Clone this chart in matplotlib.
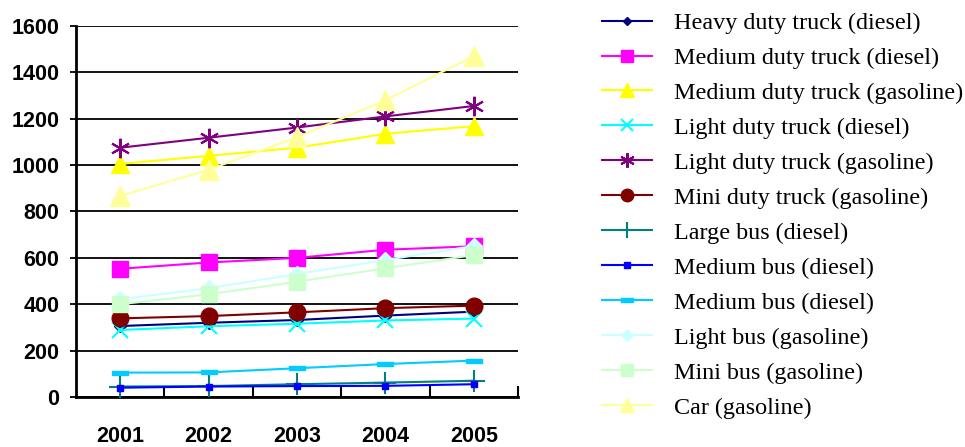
import matplotlib.pyplot as plt
from matplotlib.lines import Line2D

years = ["2001", "2002", "2003", "2004", "2005"]

labels = [
    "Heavy duty truck (diesel)",
    "Medium duty truck (diesel)",
    "Medium duty truck (gasoline)",
    "Light duty truck (diesel)",
    "Light duty truck (gasoline)",
    "Mini duty truck (gasoline)",
    "Large bus (diesel)",
    "Medium bus (diesel)",
    "Medium bus (diesel)",
    "Light bus (gasoline)",
    "Mini bus (gasoline)",
    "Car (gasoline)",
]

heavy_truck_diesel = [306, 320, 332, 351, 368]
medium_truck_diesel = [553, 580, 600, 635, 650]
medium_truck_gasoline = [1005, 1040, 1075, 1135, 1168]
light_truck_diesel = [289, 305, 316, 330, 338]
light_truck_gasoline = [1075, 1118, 1162, 1210, 1255]
mini_truck_gasoline = [339, 349, 365, 383, 394]
large_bus_diesel = [45, 47, 55, 62, 70]
medium_bus_diesel_a = [40, 45, 47, 48, 55]
medium_bus_diesel_b = [105, 106, 124, 142, 157]
light_bus_gasoline = [421, 469, 530, 591, 651]
mini_bus_gasoline = [400, 443, 497, 555, 612]
car_gasoline = [867, 980, 1120, 1280, 1470]

series = [
    heavy_truck_diesel, medium_truck_diesel, medium_truck_gasoline,
    light_truck_diesel, light_truck_gasoline, mini_truck_gasoline,
    large_bus_diesel, medium_bus_diesel_a, medium_bus_diesel_b,
    light_bus_gasoline, mini_bus_gasoline, car_gasoline,
]

colors = ["#000080", "#FF00FF", "#FFFF00", "#00FFFF", "#800080", "#800000",
          "#008080", "#0000FF", "#00CCFF", "#CCFFFF", "#CCFFCC", "#FFFF99"]

# flat bar marker for the second medium bus series
dash = [(-1, -0.3), (1, -0.3), (1, 0.3), (-1, 0.3), (-1, -0.3)]
markers = ["D", "s", "^", "x", (6, 2, 0), "o", "+", "s", dash, "D", "s", "^"]
sizes = [6, 12, 13, 11, 14, 12, 16, 5, 11, 8, 12, 14]

fig = plt.figure(figsize=(9.65, 4.47), dpi=100)
ax = fig.add_axes([0.0788, 0.1119, 0.458, 0.830])

x = list(range(len(years)))
handles = []
for vals, c, m, s, lab in zip(series, colors, markers, sizes, labels):
    mew = 1.5 if m in ("x", "+", (6, 2, 0)) else 1
    ax.plot(x, vals, color=c, linewidth=1.5, marker=m, markersize=s,
            markerfacecolor=c, markeredgecolor=c, markeredgewidth=mew,
            clip_on=False, zorder=3)
    handles.append(Line2D([], [], color=c, linewidth=1.5, marker=m,
                          markersize=s * 0.75, markerfacecolor=c,
                          markeredgecolor=c, markeredgewidth=mew))

ax.set_xlim(-0.5, 4.5)
ax.set_ylim(0, 1600)
ax.set_yticks(range(0, 1601, 200))
ax.set_xticks(x)
ax.set_xticks([0.5, 1.5, 2.5, 3.5, 4.5], minor=True)
ax.set_xticklabels(years)
ax.yaxis.grid(True, color="black", linewidth=1.3)
ax.set_axisbelow(True)

for side in ("top", "right"):
    ax.spines[side].set_visible(False)
ax.spines["left"].set_linewidth(2)
ax.spines["bottom"].set_linewidth(2)

ax.tick_params(axis="x", which="major", length=0, pad=21)
ax.tick_params(axis="x", which="minor", direction="in", length=8, width=1.5)
ax.tick_params(axis="y", length=4, width=1.3, pad=8)
for t in ax.get_xticklabels() + ax.get_yticklabels():
    t.set_fontfamily("Liberation Sans")
    t.set_fontweight("bold")
    t.set_fontsize(15.5)

fig.legend(handles=handles, labels=labels, loc="upper left",
           bbox_to_anchor=(0.611, 1.0), frameon=False, borderpad=0.0,
           prop={"family": "Liberation Serif", "size": 17.4},
           handlelength=2.1, handletextpad=0.9, labelspacing=0.54)

fig.savefig("out.png", dpi=100)
